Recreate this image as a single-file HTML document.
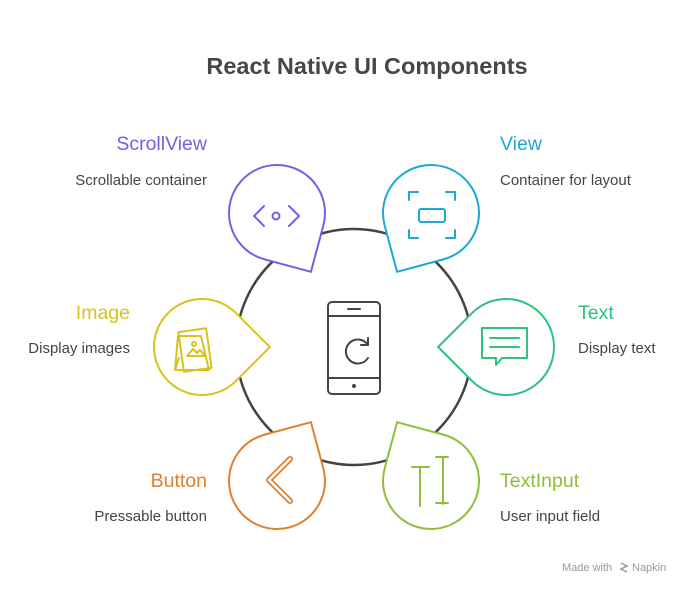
<!DOCTYPE html>
<html><head><style>
body{margin:0;background:#fff;width:684px;height:585px;overflow:hidden;font-family:"Liberation Sans",sans-serif}
</style></head><body>
<svg width="684" height="585" viewBox="0 0 684 585" xmlns="http://www.w3.org/2000/svg" font-family="Liberation Sans, sans-serif">
<text x="367" y="74" text-anchor="middle" font-size="23.5" font-weight="bold" fill="#474747">React Native UI Components</text>
<circle cx="354" cy="347" r="118" fill="none" stroke="#444" stroke-width="2.5"/>
<g fill="#fff" stroke-width="2">
<path transform="translate(277,213) rotate(15)" d="M48,0 L48,48 L0,48 A48 48 0 1 1 48,0 Z" stroke="#7b5ce8"/>
<path transform="translate(431,213) rotate(75)" d="M48,0 L48,48 L0,48 A48 48 0 1 1 48,0 Z" stroke="#1ea7d6"/>
<path transform="translate(202,347) rotate(-45)" d="M48,0 L48,48 L0,48 A48 48 0 1 1 48,0 Z" stroke="#d8c21c"/>
<path transform="translate(506,347) rotate(135)" d="M48,0 L48,48 L0,48 A48 48 0 1 1 48,0 Z" stroke="#2fc27e"/>
<path transform="translate(277,481) rotate(-105)" d="M48,0 L48,48 L0,48 A48 48 0 1 1 48,0 Z" stroke="#e0802c"/>
<path transform="translate(431,481) rotate(-165)" d="M48,0 L48,48 L0,48 A48 48 0 1 1 48,0 Z" stroke="#8fbe3a"/>
</g>
<g fill="none" stroke-width="2" stroke-linecap="round" stroke-linejoin="round">
<path d="M264,206 l-10,10 10,10 M289,206 l10,10 -10,10" stroke="#7b5ce8"/><circle cx="276" cy="216" r="3.5" stroke="#7b5ce8"/>
<g stroke="#1ea7d6"><path d="M409,200 v-8 h9 M455,200 v-8 h-9 M409,230 v8 h9 M455,230 v8 h-9"/><rect x="419" y="209" width="26" height="13" rx="2"/></g>
<g stroke="#d8c21c"><path d="M175,370 l4,-12 M175,370 h34 l-8,-34 h-23 z"/><rect x="181" y="330" width="28" height="40" transform="rotate(-8 195 350)"/><path d="M187,356 l6,-7 4,4 3,-3 5,6z"/><circle cx="194" cy="344" r="2"/></g>
<g stroke="#2fc27e"><path d="M482,328 h45 v30 h-25 l-6,7 v-7 h-14 z M490,338 h29 M490,347 h29"/></g>
<path d="M290,459 l-21,21 21,21" stroke="#e0802c" stroke-width="6"/><path d="M290,459 l-21,21 21,21" stroke="#fff" stroke-width="2.5"/>
<g stroke="#8fbe3a"><path d="M412,467 h17 M420,467 v39 M443,457 v47 M436,457 h12 M436,503 h12"/></g>
<g stroke="#444"><rect x="328" y="302" width="52" height="92" rx="4"/><path d="M328,316 h52 M328,378 h52 M348,309 h12"/><circle cx="354" cy="386" r="1" fill="#444"/><path d="M368,345 a12,12 0 1 0 0,13 M368,338 v7 h-7"/></g>
</g>
<g font-size="19.5">
<text x="207" y="150" text-anchor="end" fill="#7b5ce8">ScrollView</text>
<text x="500" y="150" fill="#1ea7d6">View</text>
<text x="130" y="319" text-anchor="end" fill="#d8c21c">Image</text>
<text x="578" y="319" fill="#2fc27e">Text</text>
<text x="207" y="487" text-anchor="end" fill="#e0802c">Button</text>
<text x="500" y="487" fill="#8fbe3a">TextInput</text>
</g>
<g font-size="15" fill="#444">
<text x="207" y="185" text-anchor="end">Scrollable container</text>
<text x="500" y="185">Container for layout</text>
<text x="130" y="353" text-anchor="end">Display images</text>
<text x="578" y="353">Display text</text>
<text x="207" y="521" text-anchor="end">Pressable button</text>
<text x="500" y="521">User input field</text>
</g>
<text x="562" y="571" font-size="11" fill="#999">Made with</text>
<text x="632" y="571" font-size="11" fill="#999">Napkin</text>
<path d="M621,563 l6,3 -6,3 6,3" stroke="#999" fill="none" stroke-width="1.5"/>
</svg>
</body></html>
